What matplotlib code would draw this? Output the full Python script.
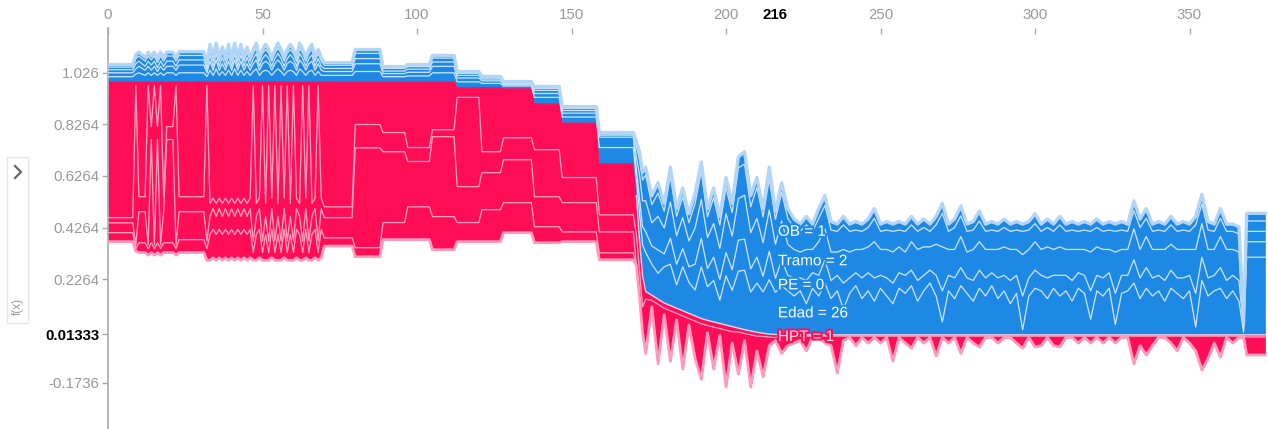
import numpy as np
import matplotlib
matplotlib.use("Agg")
import matplotlib.pyplot as plt
from matplotlib import patheffects as pe
from matplotlib.patches import Rectangle
from matplotlib.lines import Line2D

plt.rcParams['font.family'] = ['Liberation Sans', 'DejaVu Sans']

# ---------------- data: samples ordered by similarity (left part) ----------------
x_left = [0, 8, 9, 10, 12, 13, 14, 15, 16, 17, 18, 19, 21, 22, 23, 31, 32,
          33, 34, 35, 36, 37, 38, 39, 40, 41, 42,
          43, 44, 45, 46, 47, 48, 49, 50, 51, 52,
          53, 54, 55, 56, 57, 58, 59, 60, 61, 62,
          63, 64, 65, 66, 67, 68, 69,
          70, 79, 80, 88, 89, 96, 97, 104, 105, 112, 113, 120, 121, 127, 128, 137, 138, 146, 147, 158, 159, 170]

f_left = [.995, .995, .995, .995, .995, .995, .995, .995, .995, .995, .995, .995, .995, .995, .995, .995, .995,
          .995, .995, .995, .995, .995, .995, .995, .995, .995, .995,
          .995, .995, .995, .995, .995, .995, .995, .995, .995, .995,
          .995, .995, .995, .995, .995, .995, .995, .995, .995, .995,
          .995, .995, .995, .995, .995, .995, .995,
          .995, .995, .995, .995, .995, .995, .995, .995, .995, .995, .972, .972, .972, .972, .968, .968, .91, .91, .836, .836, .678, .678]

# positive (red) contributions, stacked downwards from f(x)
hpt_left = [.53, .53, .02, .449, .449, .02, .178, .02, .178, .02, .449, .178, .178, .02, .449, .449, .02,
            .475, .455, .475, .455, .475, .455, .475, .455, .475, .455,
            .475, .455, .475, .455, .02, .475, .455, .02, .475, .02,
            .455, .02, .475, .02, .455, .02, .475, .02, .455, .475,
            .02, .455, .02, .475, .455, .02, .455,
            .488, .488, .17, .17, .201, .201, .259, .259, .19, .19, .042, .042, .252, .252, .194, .194, .182, .182, .216, .216, .202, .202]
red2_left = [.02, .02, .615, .058, .058, .615, .05, .615, .05, .615, .058, .05, .05, .615, .058, .058, .60,
             .05, .04, .05, .04, .05, .04, .05, .04, .05, .04,
             .05, .04, .05, .04, .60, .05, .04, .60, .05, .60,
             .04, .60, .05, .60, .04, .60, .05, .60, .04, .05,
             .60, .04, .60, .05, .04, .60, .04,
             .042, .042, .09, .09, .074, .074, .054, .054, .027, .027, .345, .345, .081, .081, .085, .085, .182, .182, .097, .097, .066, .066]
red3_left = [.038, .038, .015, .12, .12, .015, .399, .015, .399, .015, .12, .399, .399, .015, .108, .108, .03,
             .07, .08, .07, .08, .07, .08, .07, .08, .07, .08,
             .07, .08, .07, .08, .045, .07, .08, .045, .07, .045,
             .08, .045, .07, .045, .08, .045, .07, .045, .08, .07,
             .045, .08, .045, .07, .08, .045, .08,
             .078, .078, .386, .386, .274, .274, .175, .175, .309, .309, .139, .139, .143, .143, .166, .166, .116, .116, .113, .113, .081, .081]
red4_left = [.035, .035, .01, .038, .038, .025, .038, .025, .038, .025, .038, .038, .038, .025, .05, .05, .045,
             .10, .11, .10, .11, .10, .11, .10, .11, .10, .11,
             .10, .11, .10, .11, .03, .10, .11, .03, .10, .03,
             .11, .03, .10, .03, .11, .03, .10, .03, .11, .10,
             .03, .11, .03, .10, .11, .03, .11,
             .032, .032, .035, .035, .066, .066, .127, .127, .128, .128, .074, .074, .124, .124, .116, .116, .062, .062, .038, .038, .027, .027]

# negative (blue) contributions, stacked upwards from f(x)
edad_left = [.015, .015, .025, .03, .02, .03, .02, .03, .02, .03, .02, .03, .03, .02, .03, .03, .015,
             .04, .02, .045, .02, .035, .02, .04, .02, .045, .02,
             .04, .02, .035, .02, .035, .045, .02, .035, .04, .035,
             .02, .035, .045, .035, .02, .035, .04, .035, .02, .045,
             .035, .02, .035, .04, .02, .035, .02,
             .02, .02, .035, .035, .015, .015, .018, .018, .03, .03, .018, .018, .012, .012, .006, .006, .02, .02, .018, .018, .058, .058]
pe_left = [.015, .015, .02, .025, .02, .025, .02, .025, .015, .025, .02, .025, .025, .02, .03, .03, .015,
           .035, .02, .035, .02, .03, .02, .035, .02, .035, .02,
           .035, .02, .03, .02, .03, .035, .02, .03, .035, .03,
           .02, .03, .035, .03, .02, .03, .035, .03, .02, .035,
           .03, .02, .03, .035, .02, .03, .02,
           .015, .015, .03, .03, .012, .012, .014, .014, .025, .025, .015, .015, .01, .01, .005, .005, .015, .015, .015, .015, .04, .04]
tramo_left = [.012, .012, .02, .02, .015, .02, .02, .02, .015, .02, .015, .02, .02, .015, .02, .02, .012,
              .025, .015, .025, .015, .025, .015, .025, .015, .025, .015,
              .025, .015, .025, .015, .02, .025, .015, .02, .025, .02,
              .015, .02, .025, .02, .015, .02, .025, .02, .015, .025,
              .02, .015, .02, .025, .015, .02, .015,
              .012, .012, .02, .02, .01, .01, .012, .012, .017, .017, .01, .01, .007, .007, .004, .004, .012, .012, .01, .01, .008, .008]
ob_left = [.01, .01, .02, .02, .02, .02, .02, .02, .02, .02, .02, .02, .02, .02, .017, .017, .012,
           .02, .02, .02, .02, .02, .02, .02, .02, .02, .02,
           .02, .02, .02, .02, .02, .02, .02, .02, .02, .02,
           .02, .02, .02, .02, .02, .02, .02, .02, .02, .02,
           .02, .02, .02, .02, .02, .02, .02,
           .012, .012, .02, .02, .01, .01, .01, .01, .015, .015, .008, .008, .005, .005, .004, .004, .008, .008, .008, .008, .005, .005]
otros_left = [.01, .01, .015, .015, .015, .015, .015, .015, .015, .015, .015, .015, .015, .015, .015, .015, .011,
              .02, .015, .02, .015, .02, .015, .02, .015, .02, .015,
              .02, .015, .02, .015, .015, .02, .015, .015, .02, .015,
              .015, .015, .02, .015, .015, .015, .02, .015, .015, .02,
              .015, .015, .015, .02, .015, .015, .015,
              .01, .01, .015, .015, .007, .007, .008, .008, .01, .01, .007, .007, .005, .005, .004, .004, .007, .007, .007, .007, .005, .005]

# ---------------- data: right part ----------------
x_right = [171, 172, 173, 174, 176, 178, 180, 182, 184, 186,
           188, 190, 192, 194, 196, 198, 200, 202, 204, 206,
           208, 210, 212, 214, 216, 218, 220, 222, 224, 226,
           228, 230, 232, 234, 236, 238, 240, 242, 244, 246,
           248, 250, 252, 254, 256, 258, 260, 262, 264, 266,
           268, 270, 272, 274, 276, 278, 280, 282, 284, 286,
           288, 290, 292, 294, 296, 298, 300, 302, 304, 306,
           308, 310, 312, 314, 316, 318, 320, 322, 324, 326,
           328, 330, 332, 334, 336, 338, 340, 342, 344, 346,
           348, 350, 352, 354, 356, 358, 360, 362, 364, 366,
           367.5, 368.5, 374.5]
f_right = [.55, .38, .24, .18, .165, .15, .135, .125, .115, .105,
           .095, .085, .075, .068, .062, .056, .05, .044, .038, .032,
           .027, .022, .018, .015, .0133, .012, .012, .012, .012, .012,
           .012, .012, .012, .012, .012, .012, .012, .012, .012, .012,
           .012, .012, .012, .012, .012, .012, .012, .012, .012, .012,
           .012, .012, .012, .012, .012, .012, .012, .012, .012, .012,
           .012, .012, .012, .012, .012, .012, .012, .012, .012, .012,
           .012, .012, .012, .012, .012, .012, .012, .012, .012, .012,
           .012, .012, .012, .012, .012, .012, .012, .012, .012, .012,
           .012, .012, .012, .012, .012, .012, .012, .012, .012, .012,
           .012, .012, .012]
hpt_right = [.15, .12, .12, .03, .02, .02, .02, .02, .02, .02,
             .02, .02, .02, .02, .02, .02, .02, .02, .015, .015,
             .015, .015, .012, .012, .012, .005, .005, .005, .005, .005,
             .005, .005, .005, .005, .005, .005, .005, .005, .005, .005,
             .005, .005, .005, .005, .005, .005, .005, .005, .005, .005,
             .005, .005, .005, .005, .005, .005, .005, .005, .005, .005,
             .005, .005, .005, .005, .005, .005, .005, .005, .005, .005,
             .005, .005, .005, .005, .005, .005, .005, .005, .005, .005,
             .005, .005, .005, .005, .005, .005, .005, .005, .005, .005,
             .005, .005, .005, .005, .005, .005, .005, .005, .005, .005,
             .005, .008, .008]
red2_right = [.12, .10, .10, .21, .025, .23, .025, .195, .025, .205,
              .025, .145, .215, .028, .162, .026, .22, .044, .163, .027,
              .202, .057, .156, .033, .011, .067, .037, .027, .017, .057,
              .005, .005, .027, .037, .142, .017, .005, .037, .005, .027,
              .005, .027, .005, .097, .005, .027, .047, .005, .027, .005,
              .077, .005, .027, .005, .067, .005, .027, .042, .005, .005,
              .027, .005, .005, .027, .047, .005, .042, .037, .005, .037,
              .042, .005, .005, .027, .005, .027, .005, .027, .005, .027,
              .005, .005, .107, .037, .073, .037, .005, .005, .027, .057,
              .005, .027, .057, .131, .087, .027, .081, .005, .027, .005,
              .005, .07, .07]
edad_right = [.06, .10, .12, .15, .12, .10, .14, .16, .09, .17,
              .12, .10, .20, .13, .16, .09, .19, .14, .22, .23,
              .15, .19, .16, .21, .163, .19, .17, .15, .17, .12,
              .18, .15, .20, .14, .17, .10, .16, .19, .14, .17,
              .13, .18, .15, .12, .18, .16, .19, .13, .17, .20,
              .15, .05, .17, .14, .19, .16, .13, .18, .15, .19,
              .14, .17, .12, .16, .02, .15, .18, .17, .14, .18,
              .15, .17, .13, .18, .16, .06, .17, .15, .18, .04,
              .16, .17, .20, .14, .18, .15, .17, .13, .18, .16,
              .14, .17, .03, .21, .15, .17, .18, .14, .17, .13,
              .01, .30, .30]
pe_right = [.04, .06, .07, .08, .07, .09, .05, .10, .08, .07,
            .06, .10, .11, .07, .09, .08, .09, .08, .12, .12,
            .09, .10, .06, .11, .054, .10, .06, .07, .05, .09,
            .06, .08, .09, .07, .06, .10, .06, .05, .08, .07,
            .09, .05, .07, .08, .06, .07, .06, .08, .06, .05,
            .08, .12, .06, .08, .07, .06, .08, .07, .07, .05,
            .08, .06, .09, .07, .13, .07, .07, .06, .08, .05,
            .08, .06, .08, .06, .07, .11, .06, .07, .06, .12,
            .07, .06, .09, .08, .08, .07, .06, .08, .07, .06,
            .08, .06, .13, .09, .07, .06, .08, .07, .06, .08,
            .01, .06, .06]
tramo_right = [.05, .09, .10, .12, .09, .13, .10, .14, .11, .12,
               .10, .14, .15, .12, .13, .12, .15, .13, .16, .17,
               .14, .15, .13, .16, .132, .15, .12, .11, .10, .12,
               .09, .13, .12, .11, .09, .13, .10, .09, .11, .10,
               .14, .10, .11, .12, .10, .09, .11, .12, .11, .09,
               .12, .17, .10, .11, .12, .10, .12, .11, .11, .09,
               .11, .11, .12, .10, .16, .11, .11, .10, .12, .10,
               .11, .10, .12, .09, .10, .15, .11, .11, .09, .16,
               .10, .10, .12, .11, .12, .11, .10, .12, .10, .11,
               .11, .10, .17, .13, .11, .10, .12, .12, .10, .11,
               .01, .04, .04]
ob_right = [.04, .06, .08, .10, .07, .09, .065, .10, .075, .08,
            .07, .095, .11, .08, .10, .09, .10, .09, .12, .12,
            .10, .12, .10, .12, .096, .11, .10, .085, .08, .095,
            .07, .09, .09, .085, .08, .095, .08, .075, .07, .075,
            .09, .07, .075, .08, .065, .08, .065, .07, .075, .06,
            .075, .13, .07, .085, .08, .08, .075, .08, .07, .075,
            .07, .075, .07, .075, .09, .075, .07, .07, .075, .07,
            .085, .07, .075, .07, .075, .08, .075, .07, .075, .08,
            .075, .07, .07, .085, .07, .07, .075, .07, .075, .07,
            .075, .07, .095, .075, .075, .07, .07, .07, .07, .07,
            .01, .04, .04]
otros_right = [.02, .03, .03, .03, .035, .04, .03, .035, .03, .035,
               .035, .04, .035, .032, .038, .034, .04, .036, .042, .048,
               .043, .038, .032, .045, .03, .038, .038, .033, .028, .033,
               .028, .038, .038, .033, .028, .033, .028, .033, .028, .033,
               .038, .028, .033, .028, .033, .028, .033, .028, .033, .028,
               .033, .038, .028, .033, .038, .028, .033, .038, .028, .033,
               .028, .033, .028, .033, .028, .033, .038, .028, .033, .028,
               .033, .028, .033, .028, .033, .028, .033, .028, .033, .028,
               .033, .028, .038, .033, .038, .028, .033, .028, .033, .028,
               .033, .028, .033, .038, .033, .028, .038, .028, .028, .028,
               .008, .03, .03]

# hovered sample
hover_x = 216
hover_blue_names = ["Edad", "PE", "Tramo", "OB"]
hover_blue_vals = ["26", "0", "2", "1"]
hover_red_name, hover_red_val = "HPT", "1"

x_ticks = [0, 50, 100, 150, 200, 250, 300, 350]
y_ticks = [1.026, 0.8264, 0.6264, 0.4264, 0.2264, 0.01333, -0.1736]
y_tick_labels = ["1.026", "0.8264", "0.6264", "0.4264", "0.2264", "0.01333", "-0.1736"]

# ---------------- assemble ----------------
RED = '#FF0D57'
BLUE = '#1E88E5'
zr = np.zeros(len(x_right))
x = np.array(x_left + x_right, dtype=float)
f = np.array(f_left + f_right)
red_layers = [np.array(hpt_left + hpt_right), np.array(red2_left + red2_right),
              np.concatenate([red3_left, zr]), np.concatenate([red4_left, zr])]
blue_layers = [np.array(a + b) for a, b in ((edad_left, edad_right), (pe_left, pe_right),
                                              (tramo_left, tramo_right), (ob_left, ob_right),
                                              (otros_left, otros_right))]

fig = plt.figure(figsize=(12.68, 4.29), dpi=100)
ax = fig.add_axes([108 / 1268, 0, 1 - 108 / 1268, 401 / 429])
ax.set_xlim(0, 1160 / 3.09)
ax.set_ylim(-0.3522, 1.1982)

red_lv = [f]
for r in red_layers:
    red_lv.append(red_lv[-1] - r)
blue_lv = [f]
for b in blue_layers:
    blue_lv.append(blue_lv[-1] + b)

for i in range(len(red_layers)):
    ax.fill_between(x, red_lv[i + 1], red_lv[i], color=RED, lw=0.3, ec=RED, zorder=2)
for i in range(len(blue_layers)):
    ax.fill_between(x, blue_lv[i], blue_lv[i + 1], color=BLUE, lw=0.3, ec=BLUE, zorder=2)

for lv in red_lv[1:-1]:
    ax.plot(x, lv, color='#FFA3C0', lw=0.9, zorder=3)
ax.plot(x, red_lv[-1], color='#FF9CBB', lw=2.0, zorder=3)
for lv in blue_lv[1:-1]:
    ax.plot(x, lv, color='#CDE4FA', lw=0.9, zorder=3)
ax.plot(x, blue_lv[-1], color='#B3D6F7', lw=2.4, zorder=3)
# light seam along f(x) in the right part
right_mask = x >= x_right[0]
ax.plot(x[right_mask], f[right_mask], color='#F4C9DC', lw=1.0, zorder=3)

# hover labels
hi = int(np.where(x == hover_x)[0][0])
for k, (nm, vl) in enumerate(zip(hover_blue_names, hover_blue_vals)):
    ymid = (blue_lv[k][hi] + blue_lv[k + 1][hi]) / 2
    ax.text(hover_x + 0.8, ymid, f"{nm} = {vl}", color='white', fontsize=11,
            va='center', ha='left', zorder=5,
            path_effects=[pe.withStroke(linewidth=3, foreground=BLUE)])
ymid = (red_lv[0][hi] + red_lv[1][hi]) / 2
ax.text(hover_x + 0.8, ymid - 0.004, f"{hover_red_name} = {hover_red_val}", color='#FFE3EC', fontsize=11,
        va='center', ha='left', zorder=5,
        path_effects=[pe.withStroke(linewidth=3, foreground=RED)])

# axes styling
for s in ('top', 'right', 'bottom'):
    ax.spines[s].set_visible(False)
ax.spines['left'].set_color('#AAAAAA')
ax.spines['left'].set_linewidth(1.2)

ax.xaxis.tick_top()
ax.set_xticks(x_ticks + [hover_x])
ax.set_xticklabels([str(t) for t in x_ticks] + [str(hover_x)])
ax.tick_params(axis='x', which='major', direction='in', length=4, width=1, color='#AAAAAA',
               labelcolor='#999999', labelsize=10.8, pad=4)
xt = ax.xaxis.get_major_ticks()[-1]
xt.tick2line.set_visible(False)
xl = ax.get_xticklabels()[-1]
xl.set_color('black')
xl.set_fontweight('bold')

ax.set_yticks(y_ticks)
ax.set_yticklabels(y_tick_labels)
ax.tick_params(axis='y', direction='out', length=4.3, width=1, color='#AAAAAA',
               labelcolor='#999999', labelsize=10.8, pad=1.8)
yl = ax.get_yticklabels()[5]
yl.set_color('black')
yl.set_fontweight('bold')

# side toggle box with chevron
fig.add_artist(Rectangle((7 / 1268, 106 / 429), 21 / 1268, 166 / 429, transform=fig.transFigure,
                         fill=False, ec='#E6E6E6', lw=1))
fig.add_artist(Line2D([15 / 1268, 21 / 1268, 15 / 1268],
                      [1 - 166 / 429, 1 - 172 / 429, 1 - 178 / 429],
                      transform=fig.transFigure, color='#666666', lw=1.6))
fig.text(18 / 1268, 1 - 306 / 429, 'f(x)', ha='center', va='center', fontsize=8.5, color='#999999',
         rotation=90)

fig.savefig('out.png', dpi=100, facecolor='white')
